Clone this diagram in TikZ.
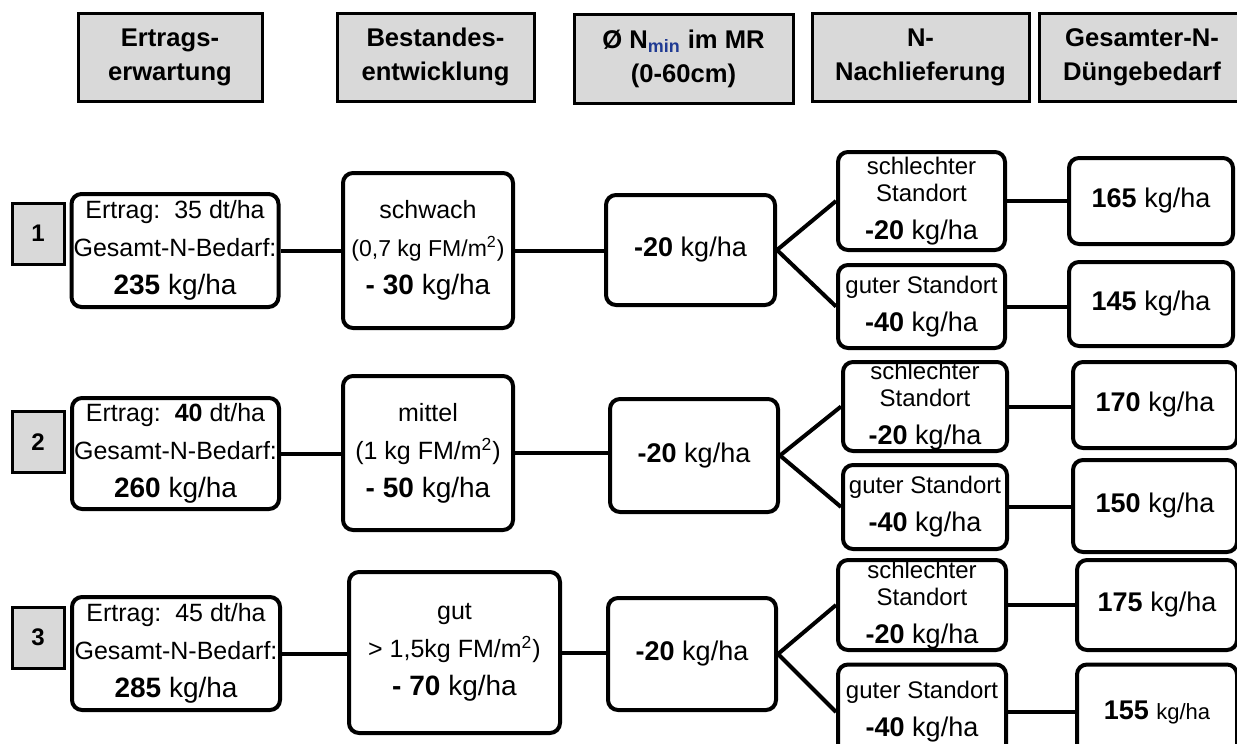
\documentclass[tikz,border=0pt]{standalone}
\usepackage{fontspec}
\setmainfont{Liberation Sans}
\usepackage{xcolor}
\usepackage{tikz}

\definecolor{hdrgray}{HTML}{D9D9D9}
\definecolor{subblue}{HTML}{1F3A93}

\begin{document}
\begin{tikzpicture}[x=0.5pt, y=-0.5pt,
    hdr/.style={draw, fill=hdrgray, line width=1.5pt, align=center, inner sep=0pt,
        font=\fontsize{12.8}{17}\selectfont\bfseries},
    numbox/.style={draw, fill=hdrgray, line width=1.5pt, minimum width=26pt,
        minimum height=30.5pt, inner sep=0pt, font=\fontsize{12}{14}\selectfont\bfseries},
    rbox/.style={draw, rounded corners=5pt, line width=2pt, align=center, inner sep=0pt,
        font=\fontsize{12.5}{19}\selectfont},
    small/.style={font=\fontsize{12}{13.5}\selectfont},
    link/.style={line width=2pt}]
    \useasboundingbox (0,0) rectangle (1237,744);

    % Column headers
    \node[hdr, minimum width=92pt, minimum height=44pt] (hErtrag) at (170,57) {Ertrags-\\erwartung};
    \node[hdr, minimum width=98.5pt, minimum height=44pt] (hBestand) at (435.5,57) {Bestandes-\\entwicklung};
    \node[hdr, minimum width=109.5pt, minimum height=44.5pt] (hNmin) at (683.5,58.5)
        {Ø N\textsubscript{\color{subblue}min} im MR\\(0-60cm)};
    \node[hdr, minimum width=108.5pt, minimum height=44pt] (hNach) at (920.5,57) {N-\\Nachlieferung};
    \node[hdr, minimum width=103pt, minimum height=44pt] (hGesamt) at (1142,57) {Gesamter-N-\\Düngebedarf};

    % Row 1
    \node[numbox] (num1) at (38,233.5) {1};
    \node[rbox, minimum width=103.5pt, minimum height=56.5pt] (ertrag1) at (175,250.5)
        {Ertrag:\ \ 35 dt/ha\\Gesamt-N-Bedarf:\\{\fontsize{14}{19}\selectfont\textbf{235} kg/ha}};
    \node[rbox, minimum width=85pt, minimum height=77.5pt] (bestand1) at (428,250.5)
        {schwach\\{\fontsize{11.5}{19}\selectfont(0,7 kg FM/m\textsuperscript{2})}\\{\fontsize{14}{19}\selectfont\textbf{- 30} kg/ha}};
    \node[rbox, minimum width=84.5pt, minimum height=55pt] (nmin1) at (690.5,250)
        {\fontsize{13.5}{16}\selectfont\textbf{-20} kg/ha};
    \node[rbox, small, minimum width=83.5pt, minimum height=49pt] (schlecht1) at (921.5,201)
        {schlechter\\Standort\\[5.5pt]{\fontsize{13.5}{16}\selectfont\textbf{-20} kg/ha}};
    \node[rbox, small, minimum width=83.5pt, minimum height=41.5pt] (gut1) at (921.5,306.5)
        {guter Standort\\[5.5pt]{\fontsize{13.5}{16}\selectfont\textbf{-40} kg/ha}};
    \node[rbox, minimum width=82pt, minimum height=43pt] (res1a) at (1151,201)
        {\fontsize{13.5}{16}\selectfont\textbf{165} kg/ha};
    \node[rbox, minimum width=82pt, minimum height=42pt] (res1b) at (1151,304)
        {\fontsize{13.5}{16}\selectfont\textbf{145} kg/ha};

    \draw[link] (ertrag1.east) -- (ertrag1.east -| bestand1.west);
    \draw[link] (bestand1.east) -- (bestand1.east -| nmin1.west);
    \draw[link] (nmin1.east) -- (schlecht1.west);
    \draw[link] (nmin1.east) -- (gut1.west);
    \draw[link] (schlecht1.east) -- (schlecht1.east -| res1a.west);
    \draw[link] (gut1.east) -- (gut1.east -| res1b.west);

    % Row 2
    \node[numbox] (num2) at (38,442) {2};
    \node[rbox, minimum width=103.5pt, minimum height=55.5pt] (ertrag2) at (175.5,453.5)
        {Ertrag:\ \ \textbf{40} dt/ha\\Gesamt-N-Bedarf:\\{\fontsize{14}{19}\selectfont\textbf{260} kg/ha}};
    \node[rbox, minimum width=85pt, minimum height=77pt] (bestand2) at (428,453)
        {mittel\\(1 kg FM/m\textsuperscript{2})\\{\fontsize{14}{19}\selectfont\textbf{- 50} kg/ha}};
    \node[rbox, minimum width=84pt, minimum height=56.5pt] (nmin2) at (694,455.5)
        {\fontsize{13.5}{16}\selectfont\textbf{-20} kg/ha};
    \node[rbox, small, minimum width=82pt, minimum height=44.5pt] (schlecht2) at (925,406.5)
        {schlechter\\Standort\\[5.5pt]{\fontsize{13.5}{16}\selectfont\textbf{-20} kg/ha}};
    \node[rbox, small, minimum width=82pt, minimum height=42pt] (gut2) at (925,507)
        {guter Standort\\[5.5pt]{\fontsize{13.5}{16}\selectfont\textbf{-40} kg/ha}};
    \node[rbox, minimum width=82pt, minimum height=43pt] (res2a) at (1155,405)
        {\fontsize{13.5}{16}\selectfont\textbf{170} kg/ha};
    \node[rbox, minimum width=82pt, minimum height=46pt] (res2b) at (1155,506)
        {\fontsize{13.5}{16}\selectfont\textbf{150} kg/ha};

    \draw[link] (ertrag2.east) -- (ertrag2.east -| bestand2.west);
    \draw[link] (bestand2.east) -- (bestand2.east -| nmin2.west);
    \draw[link] (nmin2.east) -- (schlecht2.west);
    \draw[link] (nmin2.east) -- (gut2.west);
    \draw[link] (schlecht2.east) -- (schlecht2.east -| res2a.west);
    \draw[link] (gut2.east) -- (gut2.east -| res2b.west);

    % Row 3
    \node[numbox] (num3) at (38,637.5) {3};
    \node[rbox, minimum width=104pt, minimum height=56.5pt] (ertrag3) at (176,653.5)
        {Ertrag:\ \ 45 dt/ha\\Gesamt-N-Bedarf:\\{\fontsize{14}{19}\selectfont\textbf{285} kg/ha}};
    \node[rbox, minimum width=105.5pt, minimum height=80.5pt] (bestand3) at (454.5,652.5)
        {gut\\> 1,5kg FM/m\textsuperscript{2})\\{\fontsize{14}{19}\selectfont\textbf{- 70} kg/ha}};
    \node[rbox, minimum width=84pt, minimum height=56pt] (nmin3) at (692,654)
        {\fontsize{13.5}{16}\selectfont\textbf{-20} kg/ha};
    \node[rbox, small, minimum width=84pt, minimum height=45pt] (schlecht3) at (922,605)
        {schlechter\\Standort\\[5.5pt]{\fontsize{13.5}{16}\selectfont\textbf{-20} kg/ha}};
    \node[rbox, small, minimum width=84pt, minimum height=47.5pt] (gut3) at (922,712)
        {guter Standort\\[5.5pt]{\fontsize{13.5}{16}\selectfont\textbf{-40} kg/ha}};
    \node[rbox, minimum width=80pt, minimum height=45pt] (res3a) at (1157,605)
        {\fontsize{13.5}{16}\selectfont\textbf{175} kg/ha};
    \node[rbox, minimum width=80pt, minimum height=47.5pt] (res3b) at (1157,712)
        {\fontsize{13.5}{16}\selectfont\textbf{155} {\fontsize{11}{13}\selectfont kg/ha}};

    \draw[link] (ertrag3.east) -- (ertrag3.east -| bestand3.west);
    \draw[link] (bestand3.east) -- (bestand3.east -| nmin3.west);
    \draw[link] (nmin3.east) -- (schlecht3.west);
    \draw[link] (nmin3.east) -- (gut3.west);
    \draw[link] (schlecht3.east) -- (schlecht3.east -| res3a.west);
    \draw[link] (gut3.east) -- (gut3.east -| res3b.west);
\end{tikzpicture}
\end{document}
